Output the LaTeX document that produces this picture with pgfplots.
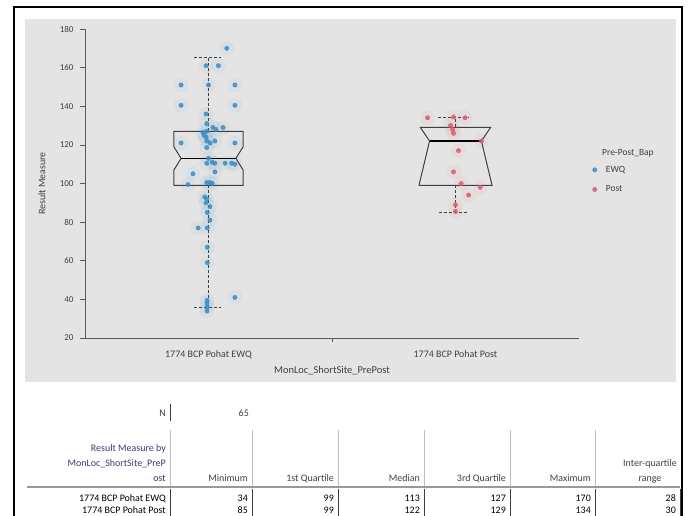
\documentclass[border=0pt]{standalone}
\usepackage{fontspec}
\setmainfont{Carlito}
\usepackage{pgfplots}
\usepackage{pgfplotstable}
\pgfplotsset{compat=1.18}
\definecolor{ewq}{HTML}{3B8DC4}
\definecolor{post}{HTML}{DD5A6E}
\definecolor{panel}{HTML}{E4E4E4}
\definecolor{axgray}{HTML}{595959}
\definecolor{boxgray}{HTML}{3F3F3F}
\definecolor{txtgray}{HTML}{404040}
\definecolor{hdrblue}{HTML}{3C3C6E}
\definecolor{sepgray}{HTML}{BFBFBF}

\pgfplotstableread{
x y
0.074 170
-0.010 161
0.040 161
-0.111 151
0.000 151
0.107 151
-0.111 140.5
0.107 140.5
-0.010 136
-0.007 131
0.018 129
0.059 129
-0.022 126.5
-0.007 127
-0.018 125
-0.010 124
-0.111 121
0.107 121
-0.007 122
0.006 121
0.026 122
0.030 128
-0.007 118.6
-0.007 110.5
0.026 110.5
0.067 110.5
0.094 110.5
0.107 110
0.000 113
0.015 111
-0.063 105
0.026 106
-0.083 99.5
-0.007 100.5
0.006 100.5
0.015 100
-0.007 92
-0.010 90
0.006 88
-0.015 93
-0.005 85
0.006 81
-0.042 77
-0.005 77
-0.005 67
-0.005 59
0.107 41
-0.006 39.5
-0.006 38
-0.006 36
-0.006 34
}\ewqdata

\pgfplotstableread{
x y
0.887 134
0.992 134.4
1.039 134
0.980 130
0.988 128
0.992 126
1.105 122
1.012 117
0.992 106
1.023 100
1.100 98
1.053 94
1.000 89
1.000 85.5
}\postdata

\begin{document}
\begin{tikzpicture}
\useasboundingbox (0,0) rectangle (692bp,516bp);
\begin{scope}[x=1bp,y=1bp]
\fill[white] (0,0) rectangle (692,516);
\fill[panel] (25,134) rectangle (676,497);
\draw[black, line width=2bp] (14,-2) -- (14,509) -- (682,509) -- (682,-2);
\end{scope}

\begin{axis}[
  at={(85bp,178bp)}, anchor=south west,
  scale only axis, width=494bp, height=309bp,
  xmin=-0.5, xmax=1.5, ymin=20, ymax=180,
  clip=false,
  axis x line*=bottom, axis y line*=left,
  axis line style={draw=axgray, line width=0.8bp, -},
  every outer x axis line/.append style={-},
  every outer y axis line/.append style={-},
  tick align=outside,
  major tick length=5bp,
  ytick={20,40,...,180},
  ytick style={draw=axgray, line width=0.6bp},
  xtick={0,1},
  xticklabels={1774 BCP Pohat EWQ, 1774 BCP Pohat Post},
  xtick style={draw=none},
  extra x ticks={0.5},
  extra x tick labels={},
  extra x tick style={xtick style={draw=axgray, line width=0.6bp}, major tick length=4bp},
  /pgf/number format/assume math mode=true,
  yticklabel style={font=\fontsize{9}{10}\selectfont, text=txtgray, xshift=-3bp},
  xticklabel style={font=\fontsize{10}{12}\selectfont, text=txtgray, yshift=-4bp},
  ylabel={Result Measure},
  ylabel style={font=\fontsize{10}{12}\selectfont, text=txtgray, at={(axis description cs:-0.087,0.5)}, anchor=center},
  xlabel={MonLoc\_ShortSite\_PrePost},
  xlabel style={font=\fontsize{10.5}{12}\selectfont, text=txtgray, at={(axis description cs:0.5,-0.105)}, anchor=center},
  legend style={draw=none, fill=none, at={(axis description cs:1.021,0.57)}, anchor=north west,
    font=\fontsize{9.5}{11}\selectfont, text=txtgray, row sep=8bp, column sep=7bp},
  legend cell align=left,
]
% halos
\addplot[forget plot, only marks, mark=*, color=ewq, mark size=7bp, opacity=0.05] table[x=x,y=y] {\ewqdata};
\addplot[forget plot, only marks, mark=*, color=post, mark size=7bp, opacity=0.05] table[x=x,y=y] {\postdata};
% EWQ box
\addplot[forget plot, draw=boxgray, line width=1bp] coordinates {(-0.14,99) (0.14,99) (0.14,107) (0.111,113) (0.14,119) (0.14,127) (-0.14,127) (-0.14,119) (-0.111,113) (-0.14,107) (-0.14,99)};
\addplot[forget plot, draw=black, line width=1.6bp] coordinates {(-0.111,113) (0.111,113)};
\addplot[forget plot, draw=boxgray, line width=1bp, dash pattern=on 3bp off 2bp] coordinates {(0,127) (0,165)};
\addplot[forget plot, draw=boxgray, line width=1bp, dash pattern=on 3bp off 2bp] coordinates {(0,99) (0,36)};
\addplot[forget plot, draw=boxgray, line width=1bp, dash pattern=on 3bp off 2bp] coordinates {(-0.058,165) (0.052,165)};
\addplot[forget plot, draw=boxgray, line width=1bp, dash pattern=on 3bp off 2bp] coordinates {(-0.058,36) (0.052,36)};
% Post box
\addplot[forget plot, draw=boxgray, line width=1bp] coordinates {(0.852,99) (1.148,99) (1.105,122) (1.142,129) (0.858,129) (0.895,122) (0.852,99)};
\addplot[forget plot, draw=black, line width=1.6bp] coordinates {(0.895,122) (1.105,122)};
\addplot[forget plot, draw=boxgray, line width=1bp, dash pattern=on 3bp off 2bp] coordinates {(1,129) (1,134.3)};
\addplot[forget plot, draw=boxgray, line width=1bp, dash pattern=on 3bp off 2bp] coordinates {(1,99) (1,85)};
\addplot[forget plot, draw=boxgray, line width=1bp, dash pattern=on 3bp off 2bp] coordinates {(0.93,134.3) (1.055,134.3)};
\addplot[forget plot, draw=boxgray, line width=1bp, dash pattern=on 3bp off 2bp] coordinates {(0.935,85) (1.05,85)};
% points
\addplot[only marks, mark=*, color=ewq, mark size=2.2bp, opacity=0.85] table[x=x,y=y] {\ewqdata};
\addlegendentry{EWQ}
\addplot[only marks, mark=*, color=post, mark size=2.2bp, opacity=0.85] table[x=x,y=y] {\postdata};
\addlegendentry{Post}
\end{axis}

\begin{scope}[x=1bp,y=1bp, every node/.style={inner sep=2bp}]
\def\tf{\fontsize{10}{12}\selectfont}
\node[anchor=west, font=\fontsize{9.5}{11}\selectfont, text=txtgray] at (600,363) {Pre-Post\_Bap};
% N row
\node[anchor=base east, font=\tf, text=txtgray] at (168,100) {N};
\draw[boxgray, line width=0.6bp] (170,95) -- (170,112);
\node[anchor=base east, font=\tf, text=txtgray] at (251,100) {65};
% header separators
\foreach \xx in {170,252,338,424,510,595} {\draw[sepgray, line width=0.6bp] (\xx,86) -- (\xx,29);}
\node[anchor=base east, font=\tf, text=hdrblue] at (168,65) {Result Measure by};
\node[anchor=base east, font=\tf, text=hdrblue] at (168,50) {MonLoc\_ShortSite\_PreP};
\node[anchor=base east, font=\tf, text=hdrblue] at (168,35) {ost};
\node[anchor=base east, font=\tf, text=txtgray] at (250,35) {Minimum};
\node[anchor=base east, font=\tf, text=txtgray] at (336,35) {1st Quartile};
\node[anchor=base east, font=\tf, text=txtgray] at (422,35) {Median};
\node[anchor=base east, font=\tf, text=txtgray] at (508,35) {3rd Quartile};
\node[anchor=base east, font=\tf, text=txtgray] at (593,35) {Maximum};
\node[anchor=base, font=\tf, text=txtgray] at (650,50) {Inter-quartile};
\node[anchor=base, font=\tf, text=txtgray] at (650,35) {range};
\draw[sepgray!80!black, line width=1.5bp] (27,29) -- (680,29);
% data rows
\foreach \xx in {170,252,338,424,510,595,680} {\draw[boxgray, line width=0.6bp] (\xx,27) -- (\xx,0);}
\node[anchor=base east, font=\tf, text=black] at (168,15) {1774 BCP Pohat EWQ};
\node[anchor=base east, font=\tf, text=black] at (168,3) {1774 BCP Pohat Post};
\foreach \xx/\v in {250/34,336/99,422/113,508/127,593/170,678/28} {\node[anchor=base east, font=\tf, text=black] at (\xx,15) {\v};}
\foreach \xx/\v in {250/85,336/99,422/122,508/129,593/134,678/30} {\node[anchor=base east, font=\tf, text=black] at (\xx,3) {\v};}
\end{scope}
\end{tikzpicture}
\end{document}
